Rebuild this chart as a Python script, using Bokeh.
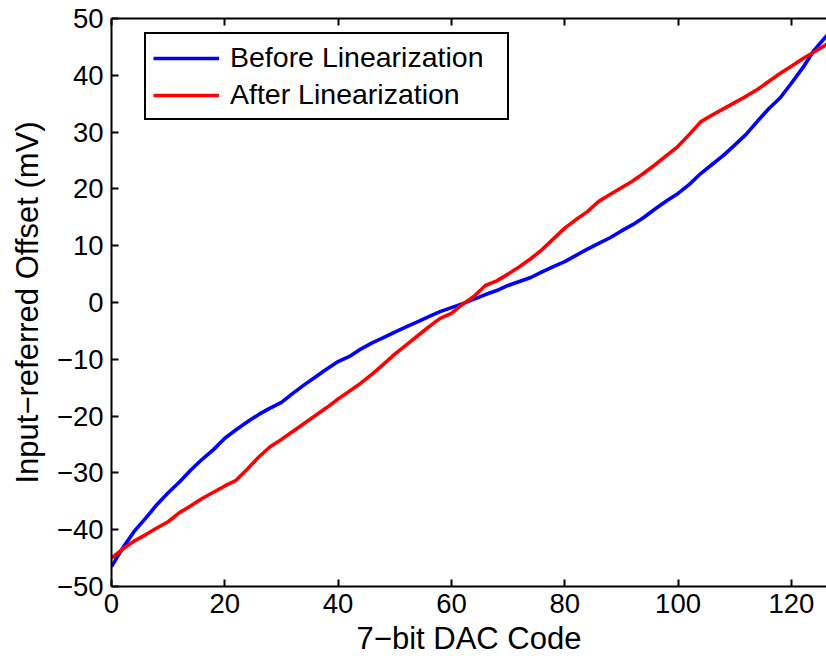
from bokeh.plotting import figure
from bokeh.models import (Range1d, LinearAxis, FixedTicker, Legend, LegendItem,
                          ColumnDataSource)
from bokeh.embed import file_html
from bokeh.resources import INLINE

# DAC codes (every 2nd code plus the last one)
dac_code = [0, 2, 4, 6, 8, 10, 12, 14, 16, 18, 20, 22, 24, 26, 28, 30, 32, 34, 36, 38,
            40, 42, 44, 46, 48, 50, 52, 54, 56, 58, 60, 62, 64, 66, 68, 70, 72, 74, 76, 78,
            80, 82, 84, 86, 88, 90, 92, 94, 96, 98, 100, 102, 104, 106, 108, 110, 112, 114,
            116, 118, 120, 122, 124, 126, 127]

before_lin = [-46.5, -43.2, -40.3, -38.0, -35.6, -33.5, -31.6, -29.5, -27.6, -25.9,
              -23.9, -22.4, -21.0, -19.7, -18.6, -17.6, -16.0, -14.5, -13.1, -11.7,
              -10.4, -9.5, -8.2, -7.1, -6.2, -5.2, -4.3, -3.4, -2.5, -1.6,
              -0.9, -0.2, 0.6, 1.4, 2.1, 3.0, 3.7, 4.4, 5.4, 6.3,
              7.2, 8.3, 9.4, 10.4, 11.4, 12.6, 13.7, 15.0, 16.5, 17.9,
              19.2, 20.8, 22.7, 24.3, 25.9, 27.7, 29.6, 31.9, 34.1, 36.0,
              38.6, 41.3, 44.4, 46.7, 48.0]

after_lin = [-45.0, -43.4, -42.0, -40.9, -39.7, -38.6, -37.0, -35.8, -34.5, -33.4,
             -32.3, -31.3, -29.3, -27.2, -25.4, -24.1, -22.7, -21.3, -19.9, -18.5,
             -17.0, -15.6, -14.2, -12.6, -10.9, -9.1, -7.5, -5.9, -4.3, -2.8,
             -1.9, -0.3, 1.1, 3.0, 3.8, 5.0, 6.3, 7.7, 9.3, 11.2,
             13.1, 14.6, 16.0, 17.8, 19.0, 20.2, 21.4, 22.8, 24.3, 25.9,
             27.5, 29.6, 31.8, 33.0, 34.1, 35.2, 36.3, 37.5, 38.9, 40.3,
             41.6, 42.9, 44.1, 45.3, 46.0]

x_ticks = [0, 20, 40, 60, 80, 100, 120]
x_tick_labels = ["0", "20", "40", "60", "80", "100", "120"]
y_ticks = [-50, -40, -30, -20, -10, 0, 10, 20, 30, 40, 50]
y_tick_labels = ["\u221250", "\u221240", "\u221230", "\u221220", "\u221210", "0",
                 "10", "20", "30", "40", "50"]

series_names = ["Before Linearization", "After Linearization"]
x_label = "7\u2212bit DAC Code"
y_label = "Input\u2212referred Offset (mV)"

FONT = "Liberation Sans"

p = figure(width=826, height=658, output_backend="svg", toolbar_location=None,
           x_range=Range1d(0, 126.2), y_range=Range1d(-50, 50),
           x_axis_location=None, y_axis_location=None,
           min_border_left=111, min_border_right=0, min_border_top=18,
           min_border_bottom=70)
p.outline_line_color = None
p.xgrid.visible = False
p.ygrid.visible = False
p.background_fill_color = "white"
p.border_fill_color = "white"

src = ColumnDataSource(dict(x=dac_code, b=before_lin, a=after_lin))
r_before = p.line("x", "b", source=src, line_color="#0000ff", line_width=3.6)
r_after = p.line("x", "a", source=src, line_color="#ff0000", line_width=3.6)


def style_axis(ax, ticks, labels):
    ax.ticker = FixedTicker(ticks=ticks)
    ax.major_label_overrides = {t: l for t, l in zip(ticks, labels)}
    ax.axis_line_color = "black"
    ax.axis_line_width = 2
    ax.major_tick_line_color = "black"
    ax.major_tick_line_width = 2
    ax.major_tick_in = 7
    ax.major_tick_out = 0
    ax.minor_tick_line_color = None
    ax.major_label_text_font = FONT
    ax.major_label_text_color = "black"
    ax.major_label_text_font_size = "27.5px"


xb = LinearAxis(axis_label=x_label)
style_axis(xb, x_ticks, x_tick_labels)
xb.major_label_standoff = 7
xb.axis_label_text_font = FONT
xb.axis_label_text_font_size = "31px"
xb.axis_label_text_font_style = "normal"
xb.axis_label_text_color = "black"
xb.axis_label_standoff = 5
p.add_layout(xb, "below")

yl = LinearAxis(axis_label=y_label)
style_axis(yl, y_ticks, y_tick_labels)
yl.major_label_standoff = 8
yl.axis_label_text_font = FONT
yl.axis_label_text_font_size = "31px"
yl.axis_label_text_font_style = "normal"
yl.axis_label_text_color = "black"
yl.axis_label_standoff = 9
p.add_layout(yl, "left")

# top frame edge with inward ticks, no labels
xt = LinearAxis()
style_axis(xt, x_ticks, [""] * len(x_ticks))
xt.major_label_standoff = 0
p.add_layout(xt, "above")

legend = Legend(items=[LegendItem(label=series_names[0], renderers=[r_before]),
                       LegendItem(label=series_names[1], renderers=[r_after])],
                location=(33, 466))
legend.label_text_font = FONT
legend.label_text_font_size = "28.5px"
legend.label_text_color = "black"
legend.border_line_color = "black"
legend.border_line_alpha = 1.0
legend.border_line_width = 2
legend.background_fill_color = "white"
legend.background_fill_alpha = 1.0
legend.glyph_width = 66
legend.label_standoff = 11
legend.padding = 7
legend.spacing = 4
legend.label_width = 270
p.add_layout(legend, "center")

open("out.html", "w").write(file_html(p, INLINE))
